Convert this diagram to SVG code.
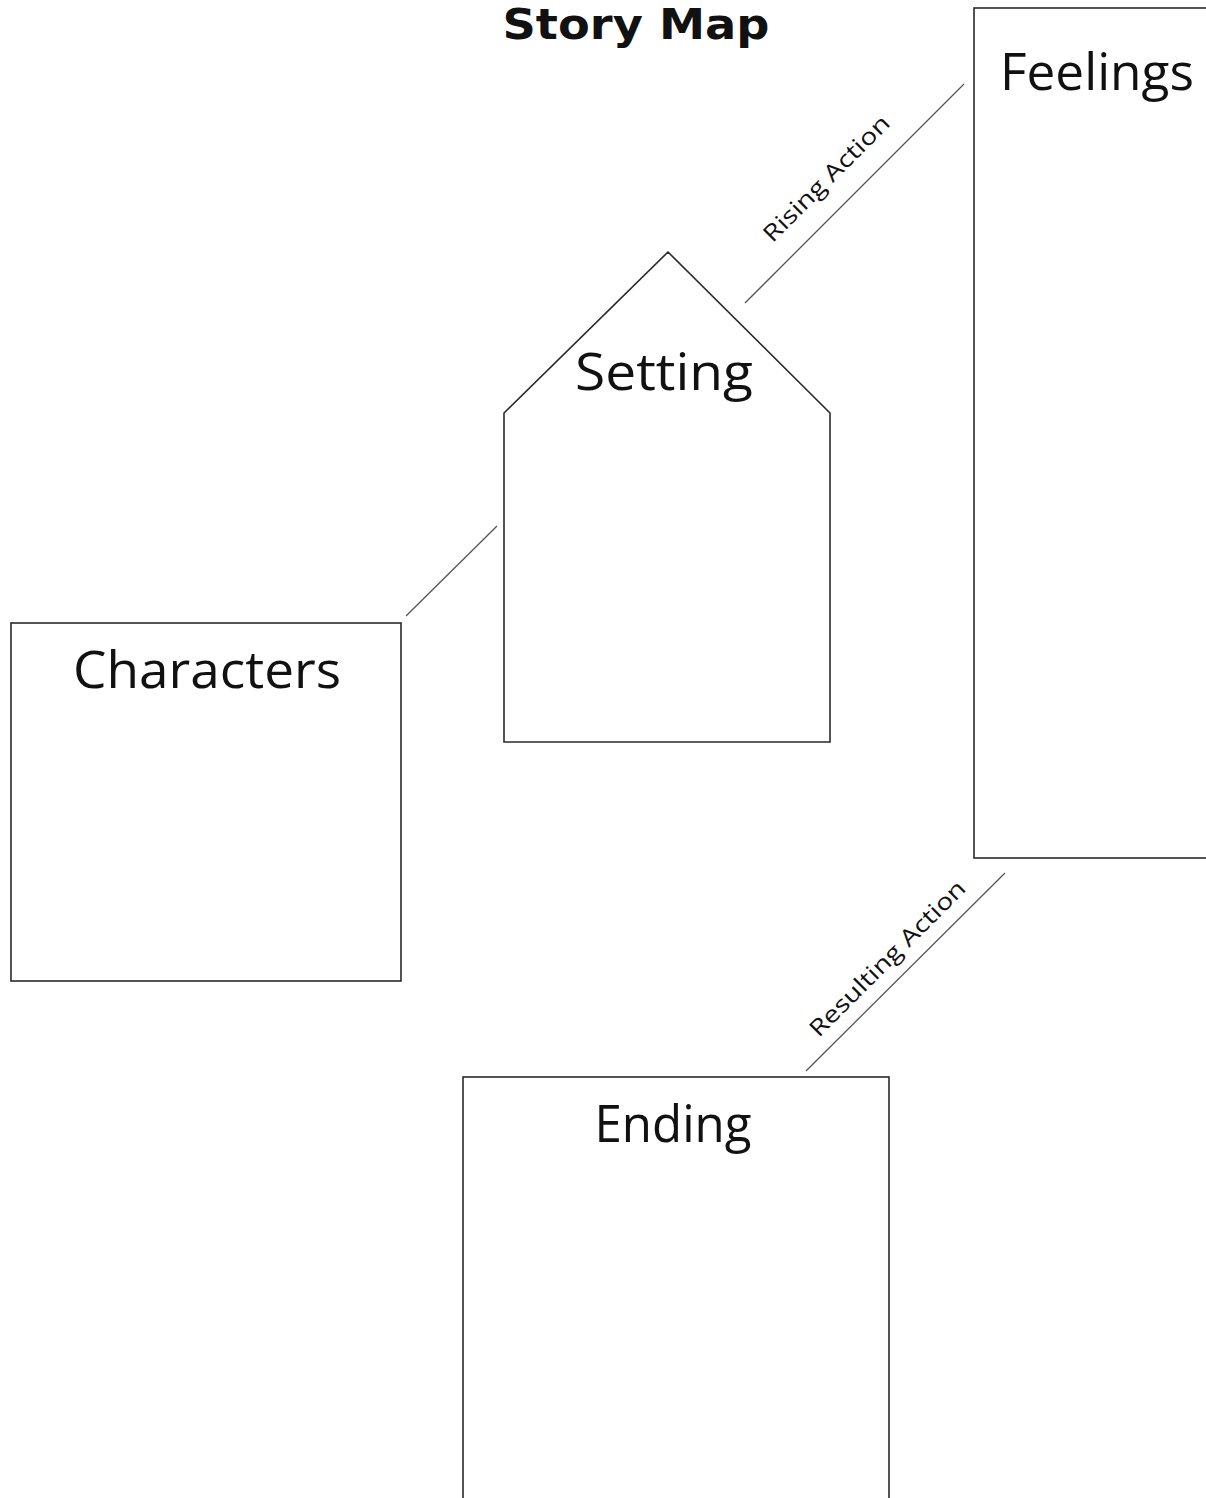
<svg xmlns="http://www.w3.org/2000/svg" width="1206" height="1498" viewBox="0 0 1206 1498">
  <style>
    .box { fill: #ffffff; stroke: #2a2a2a; stroke-width: 1.6; }
    .link { fill: none; stroke: #555555; stroke-width: 1.3; }
    .label { font-family: "Comic Sans MS", "Open Sans", "DejaVu Sans", sans-serif; fill: #111111; text-anchor: middle; }
    .head { font-size: 52px; }
    .small { font-size: 23px; }
    .title { font-family: "Comic Sans MS", "DejaVu Sans", sans-serif; font-size: 42px; font-weight: bold; }
  </style>
  <rect width="1206" height="1498" fill="#ffffff"/>

  <text id="title" class="label title" x="636" y="39" textLength="267" lengthAdjust="spacingAndGlyphs">Story Map</text>

  <g id="connectors">
    <line class="link" x1="745" y1="303" x2="964" y2="84"/>
    <line class="link" x1="406" y1="616" x2="497" y2="526"/>
    <line class="link" x1="806" y1="1071" x2="1005" y2="873"/>
    <text class="label small" transform="translate(832 184) rotate(-45)" x="0" y="0" textLength="168" lengthAdjust="spacingAndGlyphs">Rising Action</text>
    <text class="label small" transform="translate(893 964) rotate(-45)" x="0" y="0" textLength="210" lengthAdjust="spacingAndGlyphs">Resulting Action</text>
  </g>

  <g id="feelings">
    <rect class="box" x="974" y="8" width="260" height="850"/>
    <text class="label head" x="1097" y="90" textLength="194" lengthAdjust="spacingAndGlyphs">Feelings</text>
  </g>

  <g id="setting">
    <polygon class="box" points="504,413 668,252 830,413 830,742 504,742"/>
    <text class="label head" x="664" y="390" textLength="178" lengthAdjust="spacingAndGlyphs">Setting</text>
  </g>

  <g id="characters">
    <rect class="box" x="11" y="623" width="390" height="358"/>
    <text class="label head" x="207" y="688" textLength="268" lengthAdjust="spacingAndGlyphs">Characters</text>
  </g>

  <g id="ending">
    <rect class="box" x="463" y="1077" width="426" height="440"/>
    <text class="label head" x="673" y="1142" textLength="157" lengthAdjust="spacingAndGlyphs">Ending</text>
  </g>
</svg>
